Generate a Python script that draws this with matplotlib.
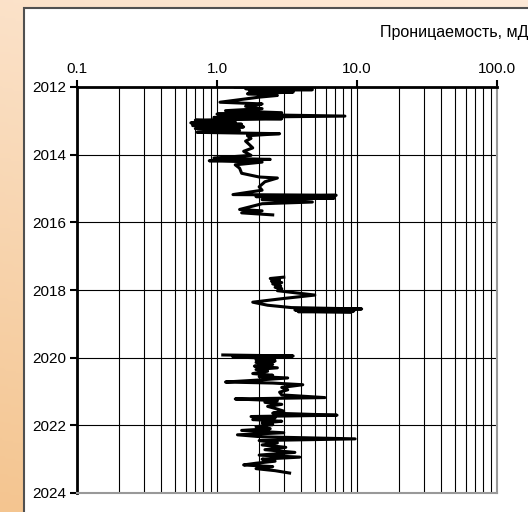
import numpy as np
import matplotlib.pyplot as plt
from matplotlib.colors import LinearSegmentedColormap
from matplotlib.patches import Rectangle

plt.rcParams['font.family'] = ['Liberation Sans', 'DejaVu Sans']

# Permeability log: depth (year axis) and permeability, mD
depth_1 = [2012.00, 2012.03, 2012.05, 2012.08, 2012.11, 2012.15, 2012.20, 2012.25, 2012.30,
           2012.45, 2012.50, 2012.57, 2012.64, 2012.70, 2012.76, 2012.80, 2012.86, 2012.90,
           2012.94, 2012.98, 2013.03, 2013.06, 2013.10, 2013.14, 2013.18, 2013.23, 2013.28,
           2013.34, 2013.38, 2013.44, 2013.52, 2013.60, 2013.70, 2013.80, 2013.90, 2014.02,
           2014.10, 2014.14, 2014.18, 2014.22, 2014.30, 2014.40, 2014.55, 2014.66, 2014.69,
           2014.80, 2014.95, 2015.05, 2015.18, 2015.20, 2015.24, 2015.28, 2015.33, 2015.40,
           2015.45, 2015.62, 2015.66, 2015.72, 2015.78]
perm_1 = [1.35, 3.4, 1.6, 4.8, 1.7, 3.5, 1.65, 2.7, 2.0,
          1.05, 2.1, 1.6, 2.1, 1.15, 2.9, 1.0, 8.2, 0.95,
          2.9, 0.7, 1.35, 0.65, 1.5, 0.67, 1.55, 0.7, 1.45,
          0.72, 2.8, 1.65, 1.75, 1.6, 1.7, 1.8, 1.55, 1.75,
          0.95, 2.4, 0.88, 2.1, 1.35, 1.45, 1.5, 2.0, 2.7,
          2.2, 2.0, 2.1, 1.3, 7.1, 1.9, 6.9, 2.1, 4.8,
          2.1, 1.45, 2.1, 1.5, 2.5]

depth_2 = [2017.62, 2017.66, 2017.70, 2017.74, 2017.78, 2017.82, 2017.88, 2017.92, 2017.96,
           2018.02, 2018.15, 2018.25, 2018.36, 2018.45, 2018.52, 2018.56, 2018.59, 2018.62,
           2018.64, 2018.66]
perm_2 = [3.0, 2.4, 2.8, 2.45, 2.9, 2.5, 2.85, 2.6, 2.9,
          2.7, 5.0, 3.0, 1.8, 2.3, 3.4, 10.8, 3.6, 9.5,
          3.8, 9.0]

depth_3 = [2019.92, 2019.95, 2019.98, 2020.02, 2020.06, 2020.10, 2020.14, 2020.20, 2020.25,
           2020.30, 2020.35, 2020.40, 2020.47, 2020.52, 2020.56, 2020.60, 2020.66, 2020.72,
           2020.75, 2020.80, 2020.88, 2020.95, 2021.02, 2021.10, 2021.18, 2021.22, 2021.27,
           2021.32, 2021.38, 2021.44, 2021.50, 2021.58, 2021.64, 2021.70, 2021.74, 2021.78,
           2021.83, 2021.88, 2021.93, 2021.98, 2022.04, 2022.10, 2022.15, 2022.22, 2022.28,
           2022.34, 2022.40, 2022.45, 2022.52, 2022.58, 2022.65, 2022.72, 2022.80, 2022.88,
           2022.94, 2023.00, 2023.06, 2023.12, 2023.17, 2023.22, 2023.28, 2023.34, 2023.41]
perm_3 = [1.1, 3.5, 1.3, 2.6, 1.9, 2.6, 1.9, 2.5, 1.85,
          2.7, 1.9, 2.3, 1.8, 2.5, 2.0, 3.2, 2.0, 1.15,
          2.5, 4.1, 2.9, 3.2, 2.8, 2.9, 5.9, 1.35, 2.7,
          2.2, 2.9, 2.3, 2.6, 3.0, 2.5, 7.2, 1.75, 2.6,
          1.8, 2.9, 2.1, 2.5, 1.9, 2.4, 1.5, 3.0, 1.4,
          2.1, 9.7, 2.0, 2.7, 2.1, 3.1, 2.2, 3.6, 2.0,
          3.9, 2.1, 2.6, 1.9, 1.55, 2.5, 1.9, 2.6, 3.3]

x_ticks = [0.1, 1, 10, 100]
x_tick_labels = ['0.1', '1.0', '10.0', '100.0']
y_ticks = [2012, 2014, 2016, 2018, 2020, 2022, 2024]

fig = plt.figure(figsize=(5.28, 5.12), dpi=100)

# orange gradient background
bg = fig.add_axes([0, 0, 1, 1], zorder=-10)
gy, gx = np.mgrid[0:1:200j, 0:1:200j]
cmap = LinearSegmentedColormap.from_list('bg', ['#fde9d7', '#f4c590'])
bg.imshow(0.8 * gy + 0.2 * (1 - gx), cmap=cmap, aspect='auto', extent=[0, 1, 0, 1], origin='upper')
bg.set_xlim(0, 1)
bg.set_ylim(0, 1)
bg.axis('off')

# white panel
fig.patches.append(Rectangle((24 / 528, -0.1), 1.2, 1.1 - 8 / 512, transform=fig.transFigure,
                             facecolor='white', edgecolor='#505050', linewidth=1.5, zorder=-5))

ax = fig.add_axes([77 / 528, 1 - 493 / 512, 420 / 528, 406 / 512])
ax.set_facecolor('white')
ax.plot(perm_1, depth_1, color='black', lw=2.2, solid_joinstyle='round')
ax.plot(perm_2, depth_2, color='black', lw=2.2, solid_joinstyle='round')
ax.plot(perm_3, depth_3, color='black', lw=2.2, solid_joinstyle='round')

ax.set_xscale('log')
ax.set_xlim(0.1, 100)
ax.set_ylim(2024, 2012)
ax.xaxis.tick_top()
ax.set_xticks(x_ticks)
ax.set_xticklabels(x_tick_labels)
ax.set_yticks(y_ticks)
ax.minorticks_on()
ax.yaxis.set_tick_params(which='minor', left=False)
ax.tick_params(axis='both', which='major', direction='out', length=5, width=1.5,
               labelsize=11, pad=3)
ax.tick_params(axis='x', which='major', pad=3)
ax.tick_params(axis='x', which='minor', length=0)
ax.grid(True, which='both', axis='x', color='black', lw=0.8)
ax.grid(True, which='major', axis='y', color='black', lw=0.8)

for side in ['top', 'left']:
    ax.spines[side].set_linewidth(2)
    ax.spines[side].set_color('black')
for side in ['bottom', 'right']:
    ax.spines[side].set_linewidth(1.5)
    ax.spines[side].set_color('#999999')

fig.text(1.0, 1 - 33 / 512, 'Проницаемость, мД', ha='right', va='center', fontsize=11.5)

fig.savefig('out.png', dpi=100)
